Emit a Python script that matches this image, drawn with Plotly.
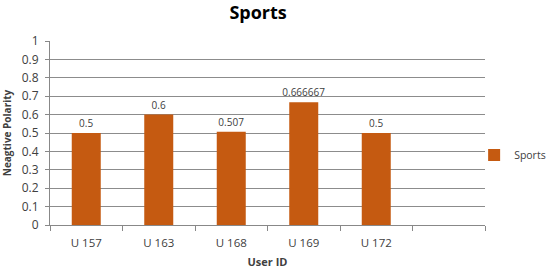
import plotly.graph_objects as go

categories = ["U 157", "U 163", "U 168", "U 169", "U 172"]
values = [0.5, 0.6, 0.507, 0.666667, 0.5]
labels = ["0.5", "0.6", "0.507", "0.666667", "0.5"]
series_name = "Sports"
y_ticks = [0, 0.1, 0.2, 0.3, 0.4, 0.5, 0.6, 0.7, 0.8, 0.9, 1]
y_tick_text = ["0", "0.1", "0.2", "0.3", "0.4", "0.5", "0.6", "0.7", "0.8", "0.9", "1"]

all_cats = categories + [" "]

font_family = "Open Sans, Liberation Sans, sans-serif"

fig = go.Figure()
fig.add_trace(go.Bar(
    x=categories, y=values, name=series_name,
    marker=dict(color="#C55A11", line=dict(width=0)),
    width=0.4,
    text=labels, textposition="outside", cliponaxis=False, constraintext="none",
    textfont=dict(size=10, color="#404040", family=font_family),
    showlegend=True,
))

fig.update_layout(
    width=555, height=271,
    margin=dict(l=50, r=70, t=41, b=46, autoexpand=False),
    paper_bgcolor="white", plot_bgcolor="white",
    title=dict(text="<b>Sports</b>", x=0.465, xanchor="center", y=0.955, yanchor="middle",
               font=dict(size=18, color="#000000", family=font_family)),
    font=dict(family=font_family, size=11, color="#404040"),
    xaxis=dict(
        type="category", categoryorder="array", categoryarray=all_cats,
        range=[-0.5, 5.5], tickson="boundaries", ticks="outside", ticklen=5,
        tickcolor="#888888", showline=True, linecolor="#888888", linewidth=1,
        showgrid=False, tickfont=dict(size=11.5, color="#404040"), automargin=False,
        ticklabelstandoff=7,
        title=dict(text="<b>User ID</b>", font=dict(size=11, color="#404040"), standoff=9),
    ),
    yaxis=dict(
        range=[0, 1], tickvals=y_ticks, ticktext=y_tick_text,
        showgrid=True, gridcolor="#8c8c8c", gridwidth=1,
        ticks="outside", ticklen=4, tickcolor="#888888",
        showline=True, linecolor="#888888", linewidth=1, automargin=False,
        zeroline=False, tickfont=dict(size=12, color="#404040"),
        ticklabelstandoff=4,
        title=dict(text="<b>Neagtive Polarity</b>", font=dict(size=10, color="#404040"), standoff=11),
    ),
    legend=dict(x=0.975, y=0.38, xanchor="left", yanchor="middle",
                font=dict(size=10.5, color="#404040"), itemwidth=30, bgcolor="rgba(0,0,0,0)"),
    bargap=0.6,
)

fig.write_html("out.html", config={"displayModeBar": False},
               post_script="document.body.style.margin='0';")
